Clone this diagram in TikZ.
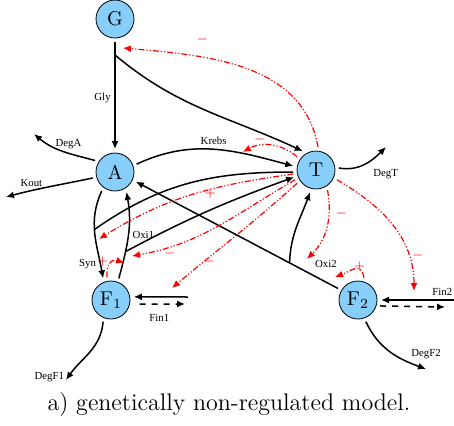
\documentclass[tikz,border=0pt]{standalone}
\usepackage{amssymb, amsmath}
\usepackage{fontspec}
\usetikzlibrary{arrows.meta,positioning}
\newfontfamily\labelfont{Liberation Serif}
\definecolor{speciesblue}{RGB}{135,206,250}

\begin{document}
\begin{tikzpicture}[x=0.5pt,y=0.5pt,font=\footnotesize]
    \tikzstyle{species}=[circle,draw,fill=speciesblue,minimum size=19pt,inner sep=0,outer sep=2pt,font=\normalsize]
    \tikzstyle{link}=[line width=0.75pt]
    \tikzstyle{flux}=[link,-{Latex[length=4pt,width=3.5pt]}]
    \tikzstyle{regul}=[-{Latex[length=4pt,width=3.5pt]},red,line width=0.6pt,dash pattern=on 3pt off 1pt on 0.6pt off 1pt on 0.6pt off 1pt]
    \tikzstyle{lbl}=[font=\labelfont\fontsize{5.4}{6}\selectfont,inner sep=1.8pt]
    \tikzstyle{sign}=[red,font=\fontsize{6}{6}\selectfont,inner sep=0.5pt]

    \useasboundingbox (0,0) rectangle (454,425);

    % species
    \node[species] (G) at (115,406) {G};
    \node[species] (A) at (115,253) {A};
    \node[species] (T) at (316,255) {T};
    \node[species] (F1) at (111,125) {F$_1$};
    \node[species] (F2) at (358,125) {F$_2$};

    % free ends
    \coordinate (gbr) at (115,370);
    \coordinate (degA) at (34,291);
    \coordinate (kout) at (6,228);
    \coordinate (degT) at (386,278);
    \coordinate (degF1) at (66,45);
    \coordinate (degF2) at (426,56);
    \coordinate (fin1in) at (188,128);
    \coordinate (fin1out) at (185,121);
    \coordinate (fin2in) at (454,125);
    \coordinate (fin2out) at (445,118);

    % targets of the regulations
    \coordinate (glyinh) at (123,377);
    \coordinate (krebsinh) at (243,273);
    \coordinate (synact) at (99,186);
    \coordinate (oxi1inh) at (132,169);
    \coordinate (fin1inh) at (172,137);
    \coordinate (oxi2inh) at (307,166);
    \coordinate (fin2inh) at (414,134);
    \coordinate (oxi1act) at (124,162);
    \coordinate (oxi2act) at (335,148);

    % reactions
    \draw[flux] (G) -- node[lbl,left,pos=0.52] (lGly) {Gly} (A);
    \draw[flux] (gbr) to[out=-40,in=155] (T.125);
    \draw[flux] (A.20) to[out=25,in=165] node[lbl,above] (lKrebs) {Krebs} (T.170);
    \draw[flux] (A.235) to[out=245,in=100] coordinate[pos=0.45] (syn)
        node[lbl,left,pos=0.85] (lSyn) {Syn} (F1.110);
    \draw[link] (T.185) to[out=180,in=35] (syn);
    \draw[flux] (F1.70) to[out=75,in=280] coordinate[pos=0.3] (oxi1)
        node[lbl,right,pos=0.5] (lOxi1) {Oxi1} (A.300);
    \draw[flux] (oxi1) to[out=28,in=200] (T.198);
    \draw[flux] (F2.150) -- coordinate[pos=0.24] (oxi2)
        node[lbl,above=5pt,pos=0.06] (lOxi2) {Oxi2} (A.335);
    \draw[flux] (oxi2) to[out=88,in=250] (T.255);

    % degradation, exchange
    \draw[flux] (A.150) to[out=165,in=-40] node[lbl,above,pos=0.4] (lDegA) {DegA} (degA);
    \draw[flux] (A.195) to[out=192,in=15] node[lbl,above,pos=0.72] (lKout) {Kout} (kout);
    \draw[flux] (T.5) to[out=-10,in=225] node[lbl,below right=2pt and 0pt,pos=0.6] (lDegT) {DegT} (degT);
    \draw[flux] (F1.250) to[out=265,in=55] node[lbl,left,pos=0.95] (lDegF1) {DegF1} (degF1);
    \draw[flux] (F2.290) to[out=-65,in=160] node[lbl,above=3pt,pos=1] (lDegF2) {DegF2} (degF2);
    \draw[flux] (fin1in) -- (F1.8);
    \draw[flux,dashed,shorten <=3pt] (F1.-10) -- node[lbl,below=3pt] (lFin1) {Fin1} (fin1out);
    \draw[flux] (fin2in) -- node[lbl,above,pos=0.16] (lFin2) {Fin2} (F2.0);
    \draw[flux,dashed] (F2.-15) -- (fin2out);

    % regulation by T and F
    \draw[regul] (T.85) to[out=100,in=-5] node[sign,above=5.5pt,pos=0.69] (sGly) {$-$} (glyinh);
    \draw[regul] (T.145) to[out=140,in=30] node[sign,above,pos=0.7] (sKrebs) {$-$} (krebsinh);
    \draw[regul] (T.190) to[out=188,in=32] node[sign,below=-1pt,pos=0.4] (sSyn) {$+$} (synact);
    \draw[regul] (T.205) to[out=210,in=10] node[sign,below,pos=0.8] (sOxi1) {$-$} (oxi1inh);
    \draw[regul] (T.215) to[out=222,in=40] node[sign,below=-1pt,pos=0.72] (sFin1) {$-$} (fin1inh);
    \draw[regul] (T.300) to[out=-80,in=45] node[sign,right=2.5pt,pos=0.3] (sOxi2) {$-$} (oxi2inh);
    \draw[regul] (T.-25) to[out=-30,in=90] node[sign,right=1pt,pos=0.75] (sFin2) {$-$} (fin2inh);
    \draw[regul] (F1.100) to[out=95,in=160,looseness=1.5] node[sign,above left=-1pt,pos=0.35] (sF1) {$+$} (oxi1act);
    \draw[regul] (F2.75) to[out=100,in=20,looseness=1.5] node[sign,above=-2pt,pos=0.3] (sF2) {$+$} (oxi2act);

    \node (caption) at (229,20) {\large a) genetically non-regulated model.};
\end{tikzpicture}
\end{document}
